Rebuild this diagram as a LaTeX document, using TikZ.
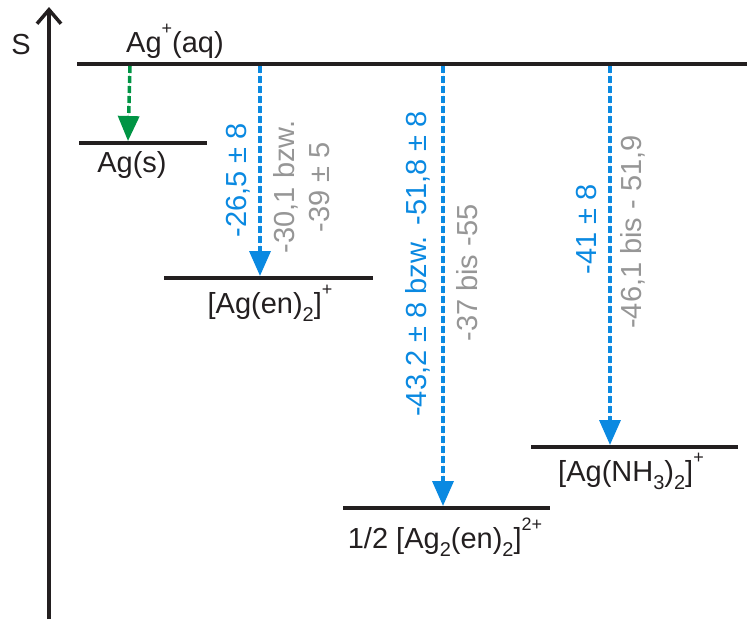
\documentclass[tikz,border=0pt]{standalone}
\usepackage{fontspec}
\setmainfont{Liberation Sans}
\usetikzlibrary{arrows.meta}
\definecolor{lvl}{RGB}{35,31,32}
\definecolor{arrblue}{RGB}{10,137,225}
\definecolor{arrgreen}{RGB}{0,148,68}
\definecolor{valgray}{RGB}{150,150,150}
\newcommand\supr[1]{\raisebox{0.62em}{\fontsize{18}{18}\selectfont #1}}
\newcommand\subr[1]{\raisebox{-0.28em}{\fontsize{20}{20}\selectfont #1}}
\tikzset{
  level/.style={draw=lvl, line width=3.5pt},
  lab/.style={font=\fontsize{29}{34}\selectfont, text=lvl, inner sep=0pt, anchor=base},
  val/.style={font=\fontsize{29}{35}\selectfont, rotate=90, inner sep=0pt, align=center},
  bluev/.style={val, text=arrblue},
  grayv/.style={val, text=valgray},
  dasharr/.style={line width=3.5pt, dash pattern=on 7pt off 3pt, -{Triangle[width=21pt,length=25pt]}},
  bluearr/.style={dasharr, draw=arrblue, fill=arrblue},
  greenarr/.style={dasharr, draw=arrgreen, fill=arrgreen},
}
\begin{document}
\begin{tikzpicture}[x=1pt,y=-1pt]
\useasboundingbox (0,0) rectangle (747,619);
% axis
\coordinate (axB) at (49,619);
\coordinate (axT) at (49,7);
\draw[line width=3.5pt, draw=lvl, -{Straight Barb[length=14pt,width=24pt,line width=3.5pt]}] (axB) -- (axT);
\node[lab, anchor=center] (S) at (21,45) {S};
% levels
\coordinate (aqL) at (77,64);  \coordinate (aqR) at (747,64);
\coordinate (sL) at (79,143);  \coordinate (sR) at (207,143);
\coordinate (enL) at (164,278); \coordinate (enR) at (373,278);
\coordinate (dL) at (343,508); \coordinate (dR) at (550,508);
\coordinate (nL) at (531,447); \coordinate (nR) at (738,447);
\draw[level] (aqL) -- (aqR);
\draw[level] (sL) -- (sR);
\draw[level] (enL) -- (enR);
\draw[level] (dL) -- (dR);
\draw[level] (nL) -- (nR);
% labels
\node[lab] (laq) at (175,52) {Ag\supr{+}(aq)};
\node[lab] (ls) at (132,172) {Ag(s)};
\node[lab] (len) at (270,313) {[Ag(en)\subr{2}]\supr{+}};
\node[lab] (ld) at (445,548) {1/2 [Ag\subr{2}(en)\subr{2}]\supr{2+}};
\node[lab] (ln) at (631,481) {[Ag(NH\subr{3})\subr{2}]\supr{+}};
% arrows
\coordinate (g1) at (130,66);  \coordinate (g2) at (128,141);
\coordinate (b1a) at (260,66); \coordinate (b1b) at (260,276);
\coordinate (b2a) at (443,66); \coordinate (b2b) at (443,506);
\coordinate (b3a) at (610,66); \coordinate (b3b) at (610,445);
\draw[greenarr] (g1) -- (g2);
\draw[bluearr] (b1a) -- (b1b);
\draw[bluearr] (b2a) -- (b2b);
\draw[bluearr] (b3a) -- (b3b);
% values
\node[bluev] (v1) at (238,180) {-26,5 ± 8};
\node[grayv] (w1) at (302,187) {-30,1 bzw.\\-39 ± 5};
\node[bluev] (v2) at (418,264) {-43,2 ± 8 bzw. -51,8 ± 8};
\node[grayv] (w2) at (467,273) {-37 bis -55};
\node[bluev] (v3) at (587,229) {-41 ± 8};
\node[grayv] (w3) at (633,232) {-46,1 bis - 51,9};
\end{tikzpicture}
\end{document}
